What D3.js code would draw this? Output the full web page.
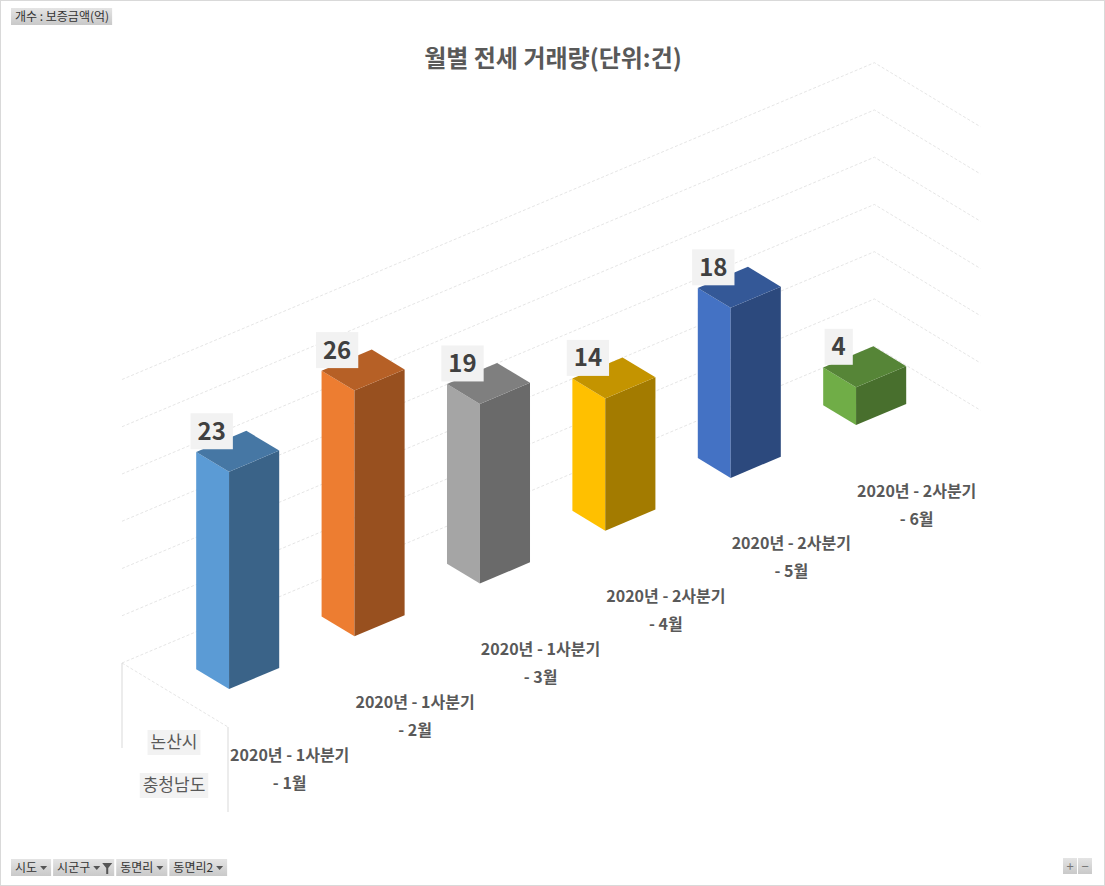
<!DOCTYPE html>
<html>
<head>
<meta charset="utf-8">
<script src="https://cdn.jsdelivr.net/npm/d3@7"></script>
<style>
  html, body { margin: 0; padding: 0; background: #fff; }
  svg { display: block; font-family: "Noto Sans CJK KR", "Noto Sans", sans-serif; }
</style>
</head>
<body>
<div id="chart"></div>
<script>
// data
const quarters = ["2020년 - 1사분기", "2020년 - 1사분기", "2020년 - 1사분기", "2020년 - 2사분기", "2020년 - 2사분기", "2020년 - 2사분기"];
const months = ["- 1월", "- 2월", "- 3월", "- 4월", "- 5월", "- 6월"];
const counts = [23, 26, 19, 14, 18, 4];
const valueTicks = [0, 5, 10, 15, 20, 25, 30];
const outerLevels = ["논산시", "충청남도"];
const rowFields = ["시도", "시군구", "동면리", "동면리2"];

const palette = ["#5B9BD5", "#ED7D31", "#A5A5A5", "#FFC000", "#4472C4", "#70AD47"];

const width = 1105, height = 886;

const svg = d3.select("#chart").append("svg")
    .attr("width", width)
    .attr("height", height);

svg.append("rect")
    .attr("x", 0.5).attr("y", 0.5)
    .attr("width", width - 1).attr("height", height - 1)
    .attr("fill", "#fff").attr("stroke", "#d9d9d9");

// 3D projection: c = category units, z = depth (0 back, 1 front), v = value
const origin = [122, 663];
const U = [125.4, -52.8];
const D = [106, 64];

const x = d3.scaleBand()
    .domain(d3.range(counts.length))
    .range([0, counts.length])
    .paddingInner(0.6)
    .paddingOuter(0.3);

const y = d3.scaleLinear()
    .domain([0, 30])
    .range([0, 283.5]);

const depth = [0.345, 0.655];

function P(c, z, v) {
    return [origin[0] + c * U[0] + z * D[0], origin[1] + c * U[1] + z * D[1] - y(v)];
}
const line = pts => "M" + pts.map(p => p.join(",")).join("L");
const poly = pts => line(pts) + "Z";

function shade(hex, k) {
    const c = d3.rgb(hex);
    return d3.rgb(c.r * k, c.g * k, c.b * k).formatHex();
}

// Title
svg.append("text")
    .attr("x", 553).attr("y", 67)
    .attr("text-anchor", "middle")
    .style("font-size", "24px")
    .style("font-weight", "bold")
    .attr("fill", "#595959")
    .text("월별 전세 거래량(단위:건)");

// Gridlines on walls
const n = counts.length;
const grid = svg.append("g")
    .attr("fill", "none")
    .attr("stroke", "#dedede")
    .attr("stroke-width", 0.8)
    .attr("stroke-dasharray", "3,2");

valueTicks.forEach(t => {
    grid.append("path").attr("d", line([P(0, 0, t), P(n, 0, t), P(n, 1, t)]));
});
grid.append("path").attr("d", line([P(0, 0, 0), P(0, 1, 0)]));

// Category axis separators
const sep = svg.append("g").attr("stroke", "#d9d9d9").attr("stroke-width", 1);
[0, 1].forEach(z => {
    const p = P(0, z, 0);
    sep.append("line")
        .attr("x1", p[0]).attr("x2", p[0])
        .attr("y1", p[1]).attr("y2", p[1] + 85);
});

// Bars, back to front
const bars = svg.append("g");
d3.range(n).reverse().forEach(i => {
    const c0 = x(i), c1 = x(i) + x.bandwidth();
    const [z0, z1] = depth;
    const v = counts[i];
    const col = palette[i];
    const g = bars.append("g");
    // side face (facing start of category axis)
    g.append("path")
        .attr("d", poly([P(c0, z0, 0), P(c0, z1, 0), P(c0, z1, v), P(c0, z0, v)]))
        .attr("fill", col);
    // front face
    g.append("path")
        .attr("d", poly([P(c0, z1, 0), P(c1, z1, 0), P(c1, z1, v), P(c0, z1, v)]))
        .attr("fill", shade(col, 0.64));
    // top
    g.append("path")
        .attr("d", poly([P(c0, z0, v), P(c0, z1, v), P(c1, z1, v), P(c1, z0, v)]))
        .attr("fill", shade(col, 0.77));
});

// Data labels
const labels = svg.append("g");
counts.forEach((v, i) => {
    const p = P(x(i) + x.bandwidth() / 2, 0.5, v);
    const cx = p[0] - 26, cy = p[1] - 20;
    const g = labels.append("g");
    const txt = g.append("text")
        .attr("x", cx).attr("y", cy + 8.5)
        .attr("text-anchor", "middle")
        .style("font-size", "24px")
        .style("font-weight", "bold")
        .attr("fill", "#404040")
        .text(v);
    const w = txt.node().getComputedTextLength() + 14;
    g.insert("rect", "text")
        .attr("x", cx - w / 2).attr("y", cy - 18)
        .attr("width", w).attr("height", 36)
        .attr("fill", "#f2f2f2");
});

// Category labels
const catLabels = svg.append("g")
    .attr("text-anchor", "middle")
    .style("font-size", "16px")
    .style("font-weight", "bold")
    .attr("fill", "#595959");
d3.range(n).forEach(i => {
    const p = P(x(i) + x.bandwidth() / 2, 1, 0);
    catLabels.append("text").attr("x", p[0] - 1).attr("y", p[1] + 60).text(quarters[i]);
    catLabels.append("text").attr("x", p[0] - 1).attr("y", p[1] + 88).text(months[i]);
});

// Outer category levels
const outer = svg.append("g");
outerLevels.forEach((name, k) => {
    const cy = 742 + k * 43;
    const t = outer.append("text")
        .attr("x", 174).attr("y", cy + 6)
        .attr("text-anchor", "middle")
        .style("font-size", "17px")
        .attr("fill", "#595959")
        .text(name);
    const w = t.node().getComputedTextLength() + 6;
    outer.insert("rect", "text")
        .attr("x", 174 - w / 2).attr("y", cy - 12)
        .attr("width", w).attr("height", 25)
        .attr("fill", "#f2f2f2");
});

// Pivot field buttons
const grad = svg.append("defs").append("linearGradient")
    .attr("id", "btn").attr("x1", 0).attr("y1", 0).attr("x2", 0).attr("y2", 1);
grad.append("stop").attr("offset", "0%").attr("stop-color", "#e4e4e4");
grad.append("stop").attr("offset", "100%").attr("stop-color", "#c9c9c9");

function button(bx, by, label, extra, filter) {
    const g = svg.append("g");
    const rect = g.append("rect").attr("x", bx).attr("y", by).attr("height", 17).attr("fill", "url(#btn)");
    const t = g.append("text")
        .attr("x", bx + 4).attr("y", by + 13)
        .style("font-size", "12px")
        .attr("fill", "#333")
        .text(label);
    let w = t.node().getComputedTextLength() + 7;
    if (extra) {
        const ax = bx + w;
        g.append("path")
            .attr("d", `M${ax},${by + 7}L${ax + 7},${by + 7}L${ax + 3.5},${by + 11}Z`)
            .attr("fill", "#555");
        w += 11;
        if (filter) {
            const fx = bx + w - 2;
            g.append("path")
                .attr("d", `M${fx},${by + 4}L${fx + 10},${by + 4}L${fx + 6},${by + 9}L${fx + 6},${by + 15}L${fx + 4},${by + 15}L${fx + 4},${by + 9}Z`)
                .attr("fill", "#555");
            w += 10;
        }
    }
    rect.attr("width", w);
    return w;
}

button(11, 8, "개수 : 보증금액(억)", false);

let bx = 11;
rowFields.forEach(f => {
    const w = button(bx, 859, f, true, f === "시군구");
    bx += w + 2;
});

// zoom buttons bottom right
[["+", 1063], ["−", 1078]].forEach(([s, zx]) => {
    svg.append("rect").attr("x", zx).attr("y", 858).attr("width", 14).attr("height", 16).attr("fill", "url(#btn)");
    svg.append("text")
        .attr("x", zx + 7).attr("y", 871)
        .attr("text-anchor", "middle")
        .style("font-size", "13px")
        .attr("fill", "#777")
        .text(s);
});
</script>
</body>
</html>
